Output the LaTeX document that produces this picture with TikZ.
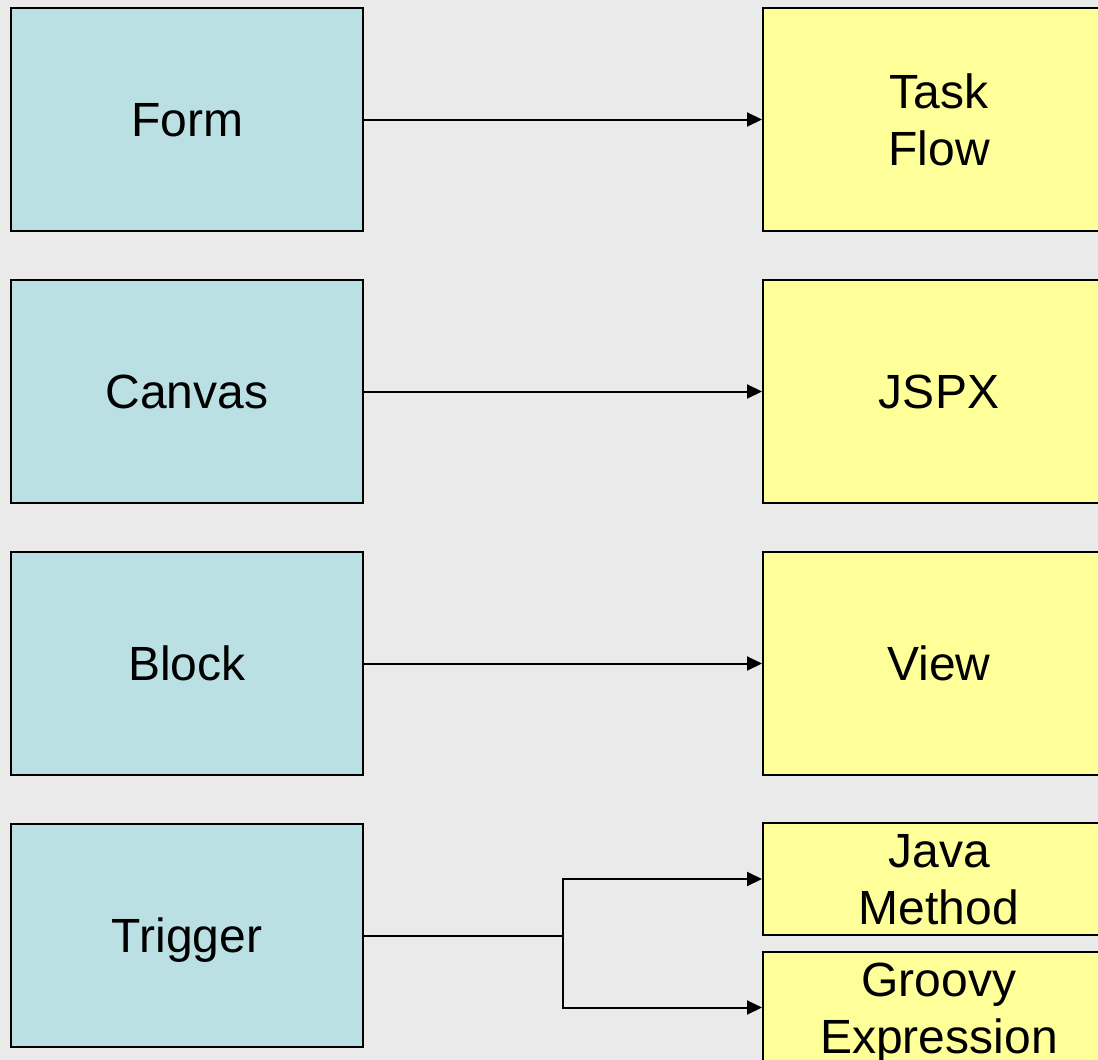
\documentclass[tikz,border=0pt]{standalone}
\usepackage{fontspec}
\setmainfont{Liberation Sans}
\usetikzlibrary{arrows.meta}
\definecolor{bgGray}{HTML}{EAEAEA}
\definecolor{srcCyan}{HTML}{BAE0E3}
\definecolor{dstYellow}{HTML}{FFFF99}
\tikzset{
  box/.style={draw=black, line width=2pt, minimum width=352pt, inner sep=0pt,
              align=center, font=\fontsize{48}{57}\selectfont,
              text height=34.4pt, text depth=0pt},
  twoline/.style={text height=91.4pt, text depth=0pt},
  srcbox/.style={box, fill=srcCyan, minimum height=223pt},
  dstbox/.style={box, fill=dstYellow},
  link/.style={line width=2pt, -{Triangle[length=15pt,width=14pt]}},
  plain/.style={line width=2pt}
}
\begin{document}
\begin{tikzpicture}[x=1pt,y=-1pt]
  \fill[bgGray] (0,0) rectangle (1098,1060);
  \useasboundingbox (0,0) rectangle (1098,1060);
  \clip (0,0) rectangle (1098,1060);

  % source column
  \node[srcbox] (form)    at (187,119.5)  {Form};
  \node[srcbox] (canvas)  at (187,391.5)  {Canvas};
  \node[srcbox] (block)   at (187,663.5)  {Block};
  \node[srcbox] (trigger) at (187,935.5)  {Trigger};

  % target column
  \node[dstbox, twoline, minimum height=223pt] (task) at (939,119.5) {Task\\Flow};
  \node[dstbox, minimum height=223pt] (jspx) at (939,391.5) {JSPX};
  \node[dstbox, minimum height=223pt] (view) at (939,663.5) {View};
  \node[dstbox, twoline, minimum height=112pt] (java) at (939,879)   {Java\\Method};
  \node[dstbox, twoline, minimum height=112pt] (groovy) at (939,1007.5) {Groovy\\Expression};

  % connectors
  \draw[link] (form.east) -- (task.west);
  \draw[link] (canvas.east) -- (jspx.west);
  \draw[link] (block.east) -- (view.west);
  \coordinate (fork) at (563,935.5);
  \draw[plain] (trigger.east) -- (fork);
  \draw[link] (fork) |- (java.west);
  \draw[link] (fork) |- (groovy.west);
\end{tikzpicture}
\end{document}
